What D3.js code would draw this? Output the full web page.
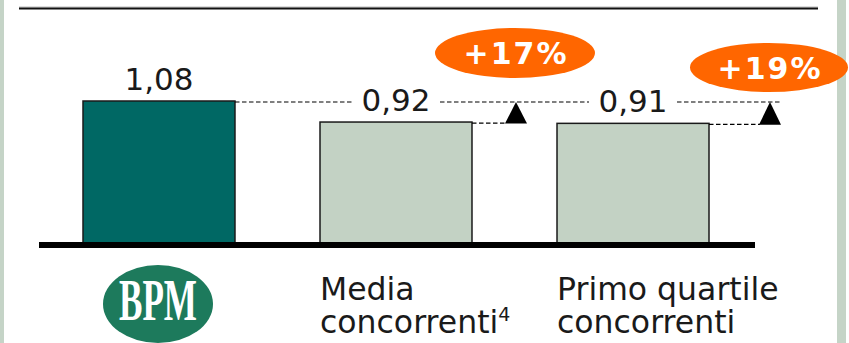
<!DOCTYPE html>
<html><head><meta charset="utf-8">
<script src="https://cdn.jsdelivr.net/npm/d3@7"></script>
<style>body{margin:0;background:#fff}svg{display:block}</style>
</head><body>
<svg id="c" width="849" height="343"></svg>
<script>
const categories = ["BPM", "Media concorrenti", "Primo quartile concorrenti"];
const values = [1.08, 0.92, 0.91];
const valueLabels = ["1,08", "0,92", "0,91"];
const gapLabels = ["+17%", "+19%"];
const barColors = ["#006864", "#c3d2c4", "#c3d2c4"];

const svg = d3.select("#c");
const W = 849, H = 343;
const baseY = 243;

// side strips
svg.append("rect").attr("x",0).attr("y",0).attr("width",4).attr("height",H).attr("fill","#c5d4c7");
svg.append("rect").attr("x",837).attr("y",0).attr("width",9).attr("height",H).attr("fill","#c5d4c7");
// top rule
svg.append("line").attr("x1",19).attr("x2",818).attr("y1",7).attr("y2",7).attr("stroke","#bbb").attr("stroke-width",1);
svg.append("line").attr("x1",19).attr("x2",818).attr("y1",8.5).attr("y2",8.5).attr("stroke","#111").attr("stroke-width",2);

const x = d3.scaleBand().domain(categories).range([83, 709]).paddingInner(0.3587).paddingOuter(0);
const y = d3.scaleLinear().domain([0, 1.08]).range([baseY, 101]);

svg.selectAll("rect.bar").data(values).join("rect").attr("class","bar")
  .attr("x",(d,i)=>x(categories[i])).attr("width",x.bandwidth())
  .attr("y",d=>y(d)).attr("height",d=>baseY-y(d))
  .attr("fill",(d,i)=>barColors[i]).attr("stroke","#1a1a1a").attr("stroke-width",1.5);

// baseline
svg.append("rect").attr("x",39).attr("y",baseY-1).attr("width",716).attr("height",6).attr("fill","#000");

const font = "'DejaVu Sans', Verdana, sans-serif";
const half = 44;
const refY = y(values[0]);
const cx = i => x(categories[i]) + x.bandwidth()/2;
const triX = [x(categories[1]) + x.bandwidth() + 44, x(categories[2]) + x.bandwidth() + 61];
const segs = [
  [x(categories[0]) + x.bandwidth(), cx(1) - half],
  [cx(1) + half, cx(2) - half],
  [cx(2) + half, triX[1] + 12]
];
const dash = "4.5,2.5";
svg.selectAll("line.ref").data(segs).join("line").attr("class","ref")
  .attr("x1",d=>d[0]).attr("x2",d=>d[1]).attr("y1",refY+1).attr("y2",refY+1)
  .attr("stroke","#000").attr("stroke-width",1.2).attr("stroke-dasharray",dash);
[1,2].forEach((k,j)=>{
  svg.append("line").attr("x1",x(categories[k])+x.bandwidth()).attr("x2",triX[j]-10)
    .attr("y1",y(values[k])+1).attr("y2",y(values[k])+1)
    .attr("stroke","#000").attr("stroke-width",1.2).attr("stroke-dasharray",dash);
  const tb = y(values[k]) + 1.5, ta = refY + 1;
  svg.append("path").attr("d",`M${triX[j]-11},${tb}L${triX[j]+11},${tb}L${triX[j]},${ta}Z`).attr("fill","#000");
});

// value labels
svg.selectAll("text.val").data(values).join("text").attr("class","val")
  .attr("x",(d,i)=>cx(i)).attr("y",d=>y(d)-11.5)
  .attr("text-anchor","middle").attr("font-family",font).attr("font-size",31).attr("fill","#1a1a1a")
  .text((d,i)=>valueLabels[i]);

// orange bubbles
const bubbles = [{cx:515, cy:53, rx:80, ry:25}, {cx:769, cy:67.5, rx:79, ry:24.5}];
bubbles.forEach((b,i)=>{
  svg.append("ellipse").attr("cx",b.cx).attr("cy",b.cy).attr("rx",b.rx).attr("ry",b.ry).attr("fill","#ff6600");
  svg.append("text").attr("x",b.cx+1).attr("y",b.cy+11).attr("text-anchor","middle")
    .attr("font-family",font).attr("font-weight","bold").attr("font-size",30).attr("letter-spacing",2)
    .attr("fill","#fff").text(gapLabels[i]);
});

// BPM logo
const lg = svg.append("g").attr("transform",`translate(${cx(0)-1},304)`);
lg.append("ellipse").attr("rx",55).attr("ry",39).attr("fill","#1d7a5c");
lg.append("text").attr("x",-39).attr("y",16).attr("font-family","'Liberation Serif', serif").attr("font-weight","bold")
  .attr("font-size",60).attr("fill","#fff").attr("textLength",78).attr("lengthAdjust","spacingAndGlyphs").text("BPM");

// category labels
const catLines = [null, ["Media", "concorrenti"], ["Primo quartile", "concorrenti"]];
[1,2].forEach(k=>{
  const t = svg.append("text").attr("x",x(categories[k])).attr("y",300).attr("font-family",font)
    .attr("font-size",31.5).attr("fill","#1a1a1a");
  t.append("tspan").attr("x",x(categories[k])).attr("dy",0).text(catLines[k][0]);
  t.append("tspan").attr("x",x(categories[k])).attr("dy",33).text(catLines[k][1]);
  if (k===1) t.append("tspan").attr("font-size",19).attr("dy",-12).text("4");
});
</script>
</body></html>
